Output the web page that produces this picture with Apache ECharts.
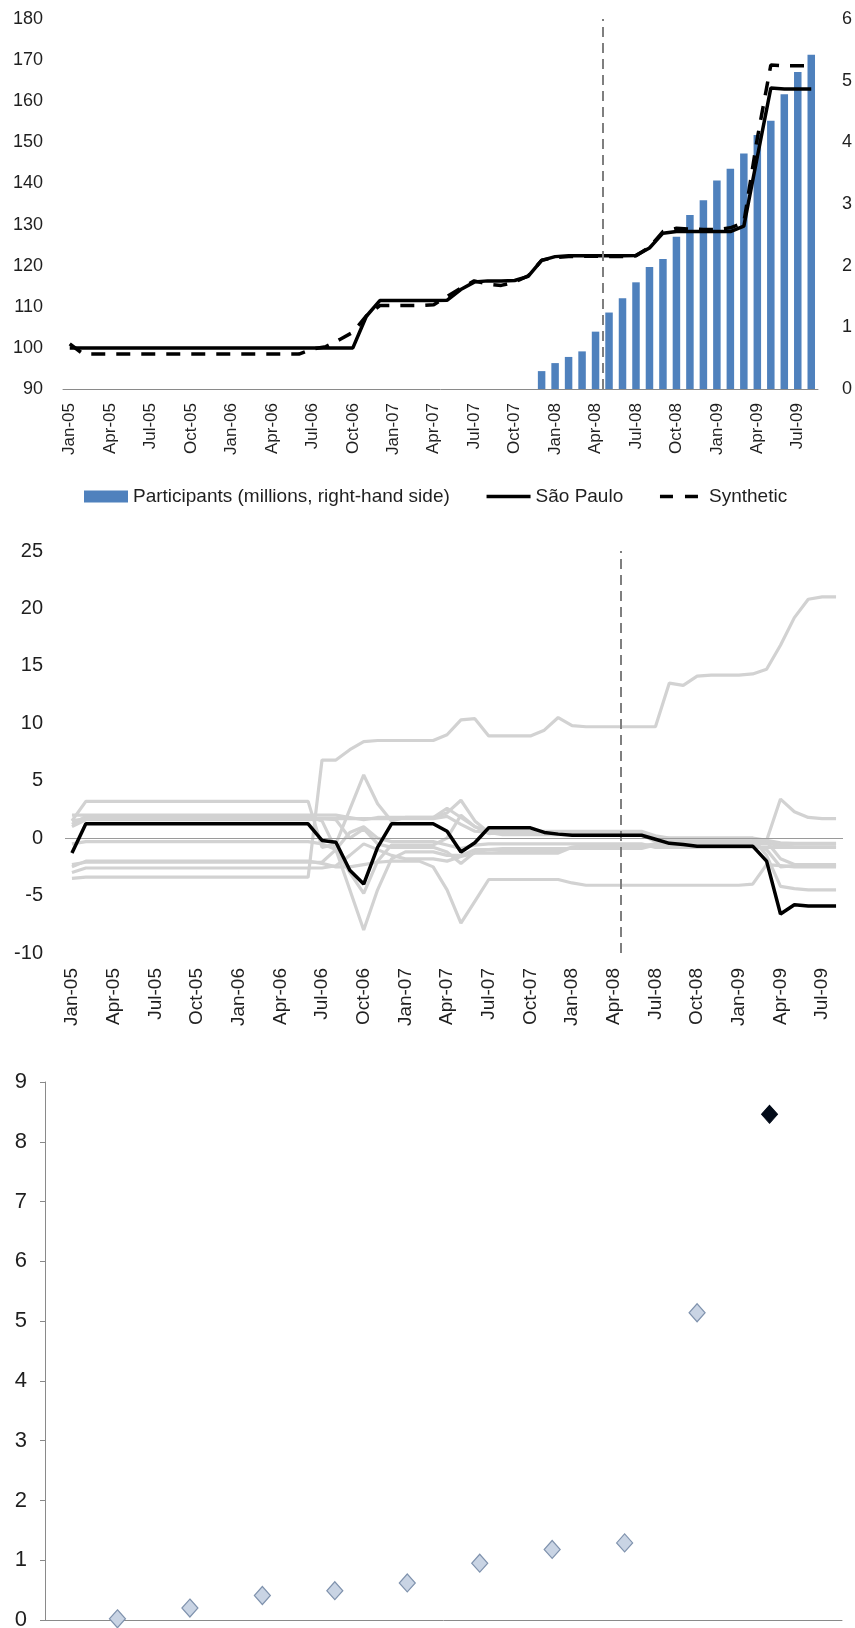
<!DOCTYPE html>
<html>
<head>
<meta charset="utf-8">
<script src="https://cdn.jsdelivr.net/npm/echarts@6/dist/echarts.min.js"></script>
<style>
  html, body { margin: 0; padding: 0; background: #ffffff; }
  #chart { width: 855px; height: 1628px; }
</style>
</head>
<body>
<div id="chart"></div>
<script>
// Monthly categories, Jan-05 .. Aug-09
const months = [
  'Jan-05','Feb-05','Mar-05','Apr-05','May-05','Jun-05','Jul-05','Aug-05','Sep-05','Oct-05','Nov-05','Dec-05',
  'Jan-06','Feb-06','Mar-06','Apr-06','May-06','Jun-06','Jul-06','Aug-06','Sep-06','Oct-06','Nov-06','Dec-06',
  'Jan-07','Feb-07','Mar-07','Apr-07','May-07','Jun-07','Jul-07','Aug-07','Sep-07','Oct-07','Nov-07','Dec-07',
  'Jan-08','Feb-08','Mar-08','Apr-08','May-08','Jun-08','Jul-08','Aug-08','Sep-08','Oct-08','Nov-08','Dec-08',
  'Jan-09','Feb-09','Mar-09','Apr-09','May-09','Jun-09','Jul-09','Aug-09'
];

// Programme start: the dashed marker sits on the left edge of this month
const policyStartMonth = 'May-08';

// Panel 1: index levels (left axis) and participants in millions (right axis)
const saoPaulo = [
  100, 100, 100, 100, 100, 100, 100, 100, 100, 100, 100, 100,
  100, 100, 100, 100, 100, 100, 100, 100, 100, 100, 107.7, 111.5,
  111.5, 111.5, 111.5, 111.5, 111.6, 114.2, 116.0, 116.3, 116.3, 116.4, 117.4, 121.3,
  122.2, 122.4, 122.4, 122.4, 122.4, 122.4, 122.5, 124.3, 127.9, 128.3, 128.3, 128.3,
  128.3, 128.3, 129.6, 146.5, 163.2, 163.0, 163.0, 163.0
];
const synthetic = [
  101.0, 98.5, 98.5, 98.5, 98.5, 98.5, 98.5, 98.5, 98.5, 98.5, 98.5, 98.5,
  98.5, 98.5, 98.5, 98.5, 98.5, 98.5, 99.7, 100.3, 102.0, 103.8, 107.8, 110.3,
  110.3, 110.3, 110.3, 110.5, 112.5, 114.5, 116.3, 115.5, 115.2, 116.0, 117.5, 121.3,
  122.0, 122.2, 122.3, 122.3, 122.2, 122.2, 122.4, 124.5, 128.3, 129.1, 128.9, 128.8,
  128.8, 129.2, 130.5, 151.0, 168.8, 168.6, 168.6, 168.6
];
const participants = [
  null, null, null, null, null, null, null, null, null, null, null, null,
  null, null, null, null, null, null, null, null, null, null, null, null,
  null, null, null, null, null, null, null, null, null, null, null, 0.29,
  0.42, 0.52, 0.61, 0.93, 1.24, 1.47, 1.73, 1.98, 2.11, 2.47, 2.82, 3.06,
  3.38, 3.57, 3.82, 4.12, 4.35, 4.78, 5.14, 5.42
];

// Panel 2: gap between each state and its synthetic control
const gapSaoPaulo = [
  -1.3, 1.25, 1.25, 1.25, 1.25, 1.25, 1.25, 1.25, 1.25, 1.25, 1.25, 1.25,
  1.25, 1.25, 1.25, 1.25, 1.25, 1.25, -0.2, -0.35, -2.8, -4.0, -0.8, 1.25,
  1.25, 1.25, 1.25, 0.6, -1.2, -0.4, 0.9, 0.9, 0.9, 0.9, 0.5, 0.35,
  0.25, 0.25, 0.25, 0.25, 0.25, 0.25, -0.1, -0.45, -0.55, -0.7, -0.7, -0.7,
  -0.7, -0.7, -2.0, -6.6, -5.8, -5.9, -5.9, -5.9
];
const gapDonor1 = [
  -3.5, -3.4, -3.4, -3.4, -3.4, -3.4, -3.4, -3.4, -3.4, -3.4, -3.4, -3.4,
  -3.4, -3.4, -3.4, -3.4, -3.4, -3.4, 6.8, 6.8, 7.7, 8.4, 8.5, 8.5,
  8.5, 8.5, 8.5, 9.0, 10.3, 10.4, 8.9, 8.9, 8.9, 8.9, 9.4, 10.5,
  9.8, 9.7, 9.7, 9.7, 9.7, 9.7, 9.7, 13.5, 13.3, 14.1, 14.2, 14.2,
  14.2, 14.3, 14.7, 16.8, 19.2, 20.8, 21.0, 21.0
];
const gapDonor2 = [
  1.5, 3.2, 3.2, 3.2, 3.2, 3.2, 3.2, 3.2, 3.2, 3.2, 3.2, 3.2,
  3.2, 3.2, 3.2, 3.2, 3.2, 3.2, -0.8, -0.5, 2.5, 5.5, 3.0, 1.5,
  1.8, 1.8, 1.8, 2.2, 3.3, 1.5, 0.5, 0.4, 0.4, 0.4, 0.4, 0.4,
  0.4, 0.4, 0.4, 0.4, 0.4, 0.4, 0.1, -0.3, -0.3, -0.3, -0.3, -0.3,
  -0.3, -0.3, -0.2, 3.4, 2.3, 1.8, 1.7, 1.7
];
const gapDonor3 = [
  1.2, 1.9, 1.9, 1.9, 1.9, 1.9, 1.9, 1.9, 1.9, 1.9, 1.9, 1.9,
  1.9, 1.9, 1.9, 1.9, 1.9, 1.9, 1.5, -1.0, -4.5, -8.0, -4.5, -1.8,
  -1.2, -1.2, -1.2, -1.5, -1.5, -1.0, -1.0, -0.9, -0.9, -0.9, -0.9, -0.9,
  -0.9, -0.9, -0.9, -0.9, -0.9, -0.9, -0.6, -0.6, -0.6, -0.6, -0.6, -0.6,
  -0.6, -0.6, -1.0, -2.5, -2.4, -2.4, -2.4, -2.4
];
const gapDonor4 = [
  -2.5, -2.0, -2.0, -2.0, -2.0, -2.0, -2.0, -2.0, -2.0, -2.0, -2.0, -2.0,
  -2.0, -2.0, -2.0, -2.0, -2.0, -2.0, -2.2, -2.5, -2.5, -2.3, -2.1, -2.0,
  -2.0, -2.0, -2.5, -4.5, -7.4, -5.5, -3.6, -3.6, -3.6, -3.6, -3.6, -3.6,
  -3.9, -4.1, -4.1, -4.1, -4.1, -4.1, -4.1, -4.1, -4.1, -4.1, -4.1, -4.1,
  -4.1, -4.0, -2.3, -2.4, -2.5, -2.5, -2.5, -2.5
];
const gapDonor5 = [
  -0.5, -0.3, -0.3, -0.3, -0.3, -0.3, -0.3, -0.3, -0.3, -0.3, -0.3, -0.3,
  -0.3, -0.3, -0.3, -0.3, -0.3, -0.3, -0.5, -1.0, -3.0, -4.8, -2.0, -0.6,
  -0.6, -0.6, -0.6, 0.0, 2.0, 1.0, 0.4, 0.5, 0.5, 0.5, 0.5, 0.5,
  0.5, 0.5, 0.5, 0.5, 0.5, 0.5, 0.0, 0.0, 0.0, 0.0, 0.0, 0.0,
  0.0, 0.0, -1.5, -4.2, -4.4, -4.5, -4.5, -4.5
];
const gapDonor6 = [
  1.5, 1.7, 1.7, 1.7, 1.7, 1.7, 1.7, 1.7, 1.7, 1.7, 1.7, 1.7,
  1.7, 1.7, 1.7, 1.7, 1.7, 1.7, 1.7, 1.6, 0.0, 0.8, -0.5, -0.8,
  -0.8, -0.8, -0.8, -1.2, -2.2, -1.2, -1.0, -1.1, -1.1, -1.1, -1.1, -1.1,
  -0.8, -0.7, -0.7, -0.7, -0.7, -0.7, -0.5, -0.5, -0.5, -0.5, -0.5, -0.5,
  -0.5, -0.5, -0.5, -0.5, -0.5, -0.5, -0.5, -0.5
];
const gapDonor7 = [
  1.0, 1.6, 1.6, 1.6, 1.6, 1.6, 1.6, 1.6, 1.6, 1.6, 1.6, 1.6,
  1.6, 1.6, 1.6, 1.6, 1.6, 1.6, 1.7, 1.7, 1.7, 1.7, 1.7, 1.7,
  1.7, 1.7, 1.7, 1.9, 1.2, 0.6, 0.5, 0.3, 0.3, 0.3, 0.3, 0.3,
  0.3, 0.3, 0.3, 0.3, 0.3, 0.3, -0.3, -0.3, -0.3, -0.3, -0.3, -0.3,
  -0.3, -0.3, -0.4, -0.7, -0.75, -0.75, -0.75, -0.75
];
const gapDonor8 = [
  -3.0, -2.6, -2.6, -2.6, -2.6, -2.6, -2.6, -2.6, -2.6, -2.6, -2.6, -2.6,
  -2.6, -2.6, -2.6, -2.6, -2.6, -2.6, -2.6, -2.4, -1.5, -0.5, -1.0, -1.5,
  -1.8, -1.8, -1.8, -2.0, -1.6, -1.3, -1.3, -1.3, -1.3, -1.3, -1.3, -1.3,
  -0.8, -0.6, -0.6, -0.6, -0.6, -0.6, -0.6, -0.6, -0.6, -0.6, -0.6, -0.6,
  -0.6, -0.6, -0.3, -1.8, -2.3, -2.3, -2.3, -2.3
];
const gapDonor9 = [
  2.0, 2.0, 2.0, 2.0, 2.0, 2.0, 2.0, 2.0, 2.0, 2.0, 2.0, 2.0,
  2.0, 2.0, 2.0, 2.0, 2.0, 2.0, 2.0, 2.0, 1.8, 1.6, 1.8, 1.8,
  1.8, 1.8, 1.8, 2.6, 1.8, 1.0, 0.6, 0.6, 0.6, 0.6, 0.6, 0.6,
  0.6, 0.6, 0.6, 0.6, 0.6, 0.6, 0.2, 0.0, 0.0, 0.0, 0.0, 0.0,
  0.0, 0.0, -0.2, -0.4, -0.45, -0.45, -0.45, -0.45
];
const gapDonor10 = [
  -2.3, -2.1, -2.1, -2.1, -2.1, -2.1, -2.1, -2.1, -2.1, -2.1, -2.1, -2.1,
  -2.1, -2.1, -2.1, -2.1, -2.1, -2.1, -2.1, -1.0, 0.5, 1.0, 0.0, -0.3,
  -0.3, -0.3, -0.3, -0.6, -0.9, -0.6, -0.5, -0.5, -0.5, -0.5, -0.5, -0.5,
  -0.5, -0.5, -0.5, -0.5, -0.5, -0.5, -0.8, -0.8, -0.8, -0.8, -0.8, -0.8,
  -0.8, -0.8, -0.8, -0.8, -0.8, -0.8, -0.8, -0.8
];
const donorGaps = [gapDonor1, gapDonor2, gapDonor3, gapDonor4, gapDonor5,
                   gapDonor6, gapDonor7, gapDonor8, gapDonor9, gapDonor10];

// Panel 3: ranked ratios, the last one (darker) is São Paulo
const rankPositions = [1, 2, 3, 4, 5, 6, 7, 8, 9, 10];
const rankValues = [0.02, 0.2, 0.41, 0.49, 0.62, 0.95, 1.18, 1.29, 5.14, 8.46];

// Axis ticks
const levelTicks = { min: 90, max: 180, interval: 10 };
const participantTicks = { min: 0, max: 6, interval: 1 };
const gapTicks = { min: -10, max: 25, interval: 5 };
const ratioTicks = { min: 0, max: 9, interval: 1 };

const FONT = '"Liberation Sans", Arial, sans-serif';
const TEXT = '#1f1f1f';
const AXIS_GRAY = '#8a8a8a';
const policyPos = months.indexOf(policyStartMonth); // left edge of that month on a 0..N scale

const chart = echarts.init(document.getElementById('chart'));

const noSplit = { show: false };
const markerLine = {
  silent: true,
  symbol: ['none', 'none'],
  label: { show: false },
  emphasis: { disabled: true }
};

const series = [
  {
    name: 'Participants (millions, right-hand side)',
    type: 'bar', xAxisIndex: 0, yAxisIndex: 1,
    data: participants, barWidth: 7.5,
    itemStyle: { color: '#4f81bd' }, silent: true
  },
  {
    name: 'São Paulo', type: 'line', xAxisIndex: 0, yAxisIndex: 0,
    data: saoPaulo, symbol: 'none', silent: true,
    lineStyle: { color: '#000000', width: 3.5 }, itemStyle: { color: '#000000' }, z: 4
  },
  {
    name: 'Synthetic', type: 'line', xAxisIndex: 0, yAxisIndex: 0,
    data: synthetic, symbol: 'none', silent: true,
    lineStyle: { color: '#000000', width: 3.5, type: [14, 11] }, itemStyle: { color: '#000000' }, z: 4
  },
  {
    name: 'policy-1', type: 'line', xAxisIndex: 1, yAxisIndex: 0, data: [],
    markLine: Object.assign({}, markerLine, {
      lineStyle: { color: '#7f7f7f', width: 2, type: [10, 6] },
      data: [{ xAxis: policyPos }]
    })
  }
];

donorGaps.forEach((g, k) => {
  series.push({
    name: 'donor-' + (k + 1), type: 'line', xAxisIndex: 2, yAxisIndex: 2,
    data: g, symbol: 'none', silent: true,
    lineStyle: { color: '#d2d2d2', width: 3.2 }, itemStyle: { color: '#d2d2d2' }, z: 2
  });
});

series.push(
  {
    name: 'zero-2', type: 'line', xAxisIndex: 3, yAxisIndex: 2, data: [], z: 1,
    markLine: Object.assign({}, markerLine, {
      lineStyle: { color: '#9a9a9a', width: 1, type: 'solid' },
      data: [{ yAxis: 0 }]
    })
  },
  {
    name: 'gap-sp', type: 'line', xAxisIndex: 2, yAxisIndex: 2,
    data: gapSaoPaulo, symbol: 'none', silent: true,
    lineStyle: { color: '#000000', width: 3.5 }, itemStyle: { color: '#000000' }, z: 5
  },
  {
    name: 'policy-2', type: 'line', xAxisIndex: 3, yAxisIndex: 2, data: [], z: 6,
    markLine: Object.assign({}, markerLine, {
      lineStyle: { color: '#7f7f7f', width: 2, type: [10, 6] },
      data: [{ xAxis: policyPos }]
    })
  },
  {
    name: 'ratios', type: 'scatter', xAxisIndex: 4, yAxisIndex: 3, silent: true,
    data: rankValues.slice(0, -1).map((v, i) => [rankPositions[i], v]),
    symbol: 'diamond', symbolSize: [16, 18],
    itemStyle: { color: '#c9d4e4', borderColor: '#7f92ad', borderWidth: 1.2, opacity: 1 }
  },
  {
    name: 'ratio-sp', type: 'scatter', xAxisIndex: 4, yAxisIndex: 3, silent: true,
    data: [[rankPositions[rankPositions.length - 1], rankValues[rankValues.length - 1]]],
    symbol: 'diamond', symbolSize: [16, 18],
    itemStyle: { color: '#020a18', borderColor: '#020a18', borderWidth: 1, opacity: 1 }
  }
);

const option = {
  animation: false,
  backgroundColor: '#ffffff',
  textStyle: { fontFamily: FONT, color: TEXT },
  legend: {
    left: 79, top: 482,
    itemWidth: 44, itemHeight: 12, itemGap: 35,
    textStyle: { fontFamily: FONT, fontSize: 19, color: TEXT },
    selectedMode: false,
    data: [
      { name: 'Participants (millions, right-hand side)', icon: 'rect' },
      { name: 'São Paulo', itemStyle: { opacity: 0 }, lineStyle: { width: 3.5 } },
      { name: 'Synthetic', itemStyle: { opacity: 0 }, lineStyle: { width: 3.5, type: [13, 12] } }
    ]
  },
  grid: [
    { left: 63, right: 37, top: 19, height: 370, outerBoundsMode: 'none', containLabel: false },
    { left: 65, right: 12, top: 551, height: 402, outerBoundsMode: 'none', containLabel: false },
    { left: 45, right: 13, top: 1082, height: 538, outerBoundsMode: 'none', containLabel: false }
  ],
  xAxis: [
    {
      gridIndex: 0, type: 'category', data: months, boundaryGap: true,
      axisLine: { onZero: false, lineStyle: { color: AXIS_GRAY, width: 1 } },
      axisTick: { show: false }, splitLine: noSplit,
      axisLabel: { rotate: 90, interval: 2, fontSize: 17, color: TEXT, fontFamily: FONT, margin: 14 }
    },
    { gridIndex: 0, type: 'value', min: 0, max: months.length, show: false, splitLine: noSplit },
    {
      gridIndex: 1, type: 'category', data: months, boundaryGap: true,
      axisLine: { show: false, onZero: false },
      axisTick: { show: false }, splitLine: noSplit,
      axisLabel: { rotate: 90, interval: 2, fontSize: 19, color: TEXT, fontFamily: FONT, margin: 15 }
    },
    { gridIndex: 1, type: 'value', min: 0, max: months.length, show: false, splitLine: noSplit },
    {
      gridIndex: 2, type: 'value', min: 0, max: 11,
      axisLine: { show: true, onZero: false, lineStyle: { color: AXIS_GRAY, width: 1 } },
      axisTick: { show: false }, axisLabel: { show: false }, splitLine: noSplit
    }
  ],
  yAxis: [
    {
      gridIndex: 0, type: 'value', min: levelTicks.min, max: levelTicks.max, interval: levelTicks.interval,
      axisLine: { show: false }, axisTick: { show: false }, splitLine: noSplit,
      axisLabel: { fontSize: 18, color: TEXT, fontFamily: FONT, margin: 20 }
    },
    {
      gridIndex: 0, type: 'value', position: 'right',
      min: participantTicks.min, max: participantTicks.max, interval: participantTicks.interval,
      axisLine: { show: false }, axisTick: { show: false }, splitLine: noSplit,
      axisLabel: { fontSize: 18, color: TEXT, fontFamily: FONT, margin: 24 }
    },
    {
      gridIndex: 1, type: 'value', min: gapTicks.min, max: gapTicks.max, interval: gapTicks.interval,
      axisLine: { show: false }, axisTick: { show: false }, splitLine: noSplit,
      axisLabel: { fontSize: 20, color: TEXT, fontFamily: FONT, margin: 22 }
    },
    {
      gridIndex: 2, type: 'value', min: ratioTicks.min, max: ratioTicks.max, interval: ratioTicks.interval,
      axisLine: { show: true, lineStyle: { color: AXIS_GRAY, width: 1 } },
      axisTick: { show: true, length: 5, lineStyle: { color: AXIS_GRAY } },
      splitLine: noSplit,
      axisLabel: { fontSize: 22, color: TEXT, fontFamily: FONT, margin: 18 }
    }
  ],
  series: series
};

chart.setOption(option);
</script>
</body>
</html>
